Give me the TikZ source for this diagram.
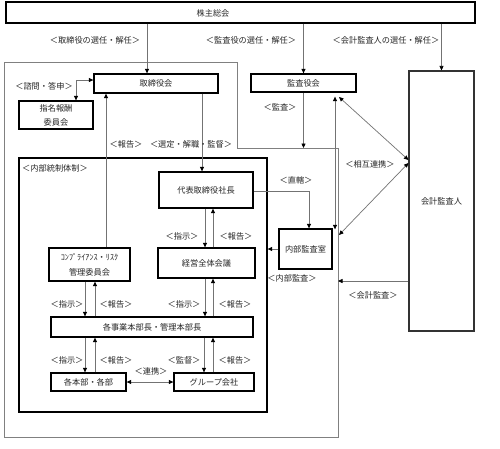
\documentclass[tikz,border=0pt]{standalone}
\usepackage{fontspec}
\setmainfont{Noto Sans CJK JP}
\usetikzlibrary{arrows.meta}
\begin{document}
\begin{tikzpicture}[x=1pt,y=-1pt,
  font=\fontsize{8.2}{10}\selectfont,
  box/.style={draw=black, line width=1.3pt, fill=white, inner sep=0pt, text=black!85},
  ln/.style={draw=black!55, line width=0.7pt},
  tip/.style={},
  arr/.style={ln, -{Triangle[length=4.5pt,width=4pt,color=black]}},
  darr/.style={ln, {Triangle[length=4.5pt,width=4pt,color=black]}-{Triangle[length=4.5pt,width=4pt,color=black]}},
  lab/.style={inner sep=0pt, text=black!85}]
\useasboundingbox (0,0) rectangle (500,448);
\fill[white] (0,0) rectangle (500,448);
% outer board area
\draw[draw=black!50, line width=0.7pt] (4,62) -- (237,62) -- (237,148) -- (338,148) -- (338,437) -- (4,437) -- cycle;
\coordinate (oT) at (338,148);
% boxes
\node[box, minimum width=469pt, minimum height=21pt] (kabu) at (240.5,12.5) {};
\node[lab] (kabut) at (213,13) {株主総会};
\node[box, minimum width=124pt, minimum height=19pt] (tori) at (156,83.5) {取締役会};
\node[box, minimum width=74pt, minimum height=28pt, align=center, font=\fontsize{8.2}{14}\selectfont] (shimei) at (56,115) {指名報酬\\委員会};
\node[box, minimum width=105pt, minimum height=18pt] (kansa) at (303.5,83) {監査役会};
\node[box, line width=1.1pt, draw=black!80, minimum width=65pt, minimum height=260pt] (kaikei) at (441.5,201) {会計監査人};
\node[box, fill=none, minimum width=248pt, minimum height=254pt] (inner) at (143,285) {};
\node[lab, anchor=west] (naibut) at (22,168) {＜内部統制体制＞};
\node[box, minimum width=94pt, minimum height=36pt] (daihyo) at (206,190) {代表取締役社長};
\node[box, minimum width=97pt, minimum height=30pt] (keiei) at (206.5,263) {経営全体会議};
\node[box, minimum width=81pt, minimum height=33pt, align=center, font=\fontsize{8.2}{15}\selectfont] (compla) at (89.5,264.5) {ｺﾝﾌﾟﾗｲｱﾝｽ・ﾘｽｸ\\管理委員会};
\node[box, minimum width=202pt, minimum height=20pt] (jigyo) at (152,327) {各事業本部長・管理本部長};
\node[box, minimum width=75pt, minimum height=18pt] (kakubu) at (88.5,382) {各本部・各部};
\node[box, minimum width=80pt, minimum height=18pt] (group) at (214,382) {グループ会社};
\node[box, minimum width=53pt, minimum height=40pt] (naibu) at (305.5,249) {内部監査室};
% x positions
\coordinate (cA) at (147,0);
\coordinate (cB) at (76,0);
\coordinate (cC) at (202,0);
\coordinate (cD) at (106,0);
\coordinate (cE) at (205,0);
\coordinate (cF) at (213,0);
\coordinate (cG) at (85,0);
\coordinate (cH) at (95,0);
\coordinate (cI) at (204,0);
\coordinate (cJ) at (309,0);
\coordinate (cK) at (335,0);
\coordinate (d1) at (339,97);
\coordinate (d2) at (339,235);
% connectors
\draw[arr] (kabu.south -| cA) -- (tori.north -| cA);
\draw[arr] (kabu.south -| kansa.north) -- (kansa.north);
\draw[arr] (kabu.south -| kaikei.north) -- (kaikei.north);
\draw[darr] ([yshift=3.5pt]tori.west) -| (shimei.north -| cB);
\draw[arr] (tori.south -| cC) -- (daihyo.north -| cC);
\draw[arr] (compla.north -| cD) -- (tori.south -| cD);
\draw[arr] (daihyo.south -| cE) -- (keiei.north -| cE);
\draw[arr] (keiei.north -| cF) -- (daihyo.south -| cF);
\draw[arr] (compla.south -| cG) -- (jigyo.north -| cG);
\draw[arr] (jigyo.north -| cH) -- (compla.south -| cH);
\draw[arr] (keiei.south -| cE) -- (jigyo.north -| cE);
\draw[arr] (jigyo.north -| cF) -- (keiei.south -| cF);
\draw[arr] (jigyo.south -| cG) -- (kakubu.north -| cG);
\draw[arr] (kakubu.north -| cH) -- (jigyo.south -| cH);
\draw[arr] (jigyo.south -| cI) -- (group.north -| cI);
\draw[arr] (group.north -| cF) -- (jigyo.south -| cF);
\draw[darr] (kakubu.east) -- (group.west);
\draw[arr] ([yshift=-1pt]daihyo.east) -| (naibu.north -| cJ);
\draw[arr] (naibu.west) -- (inner.east |- naibu.west);
\draw[arr] (kansa.south) -- (kansa.south |- oT);
\draw[darr] ([yshift=-4pt]kansa.south -| cK) -- ([yshift=-1pt]naibu.north -| cK);
\draw[darr] (d1) -- ([yshift=41pt]kaikei.west);
\draw[darr] ([yshift=38pt]kaikei.west) -- (d2);
\coordinate (k281) at ([yshift=-80pt]kaikei.west);
\draw[arr] (k281) -- (k281 -| oT);
% labels
\node[lab] (l1) at (95,40) {＜取締役の選任・解任＞};
\node[lab] (l2) at (251,40) {＜監査役の選任・解任＞};
\node[lab] (l3) at (386,40) {＜会計監査人の選任・解任＞};
\node[lab] (l4) at (44,86) {＜諮問・答申＞};
\node[lab] (l5) at (126,144) {＜報告＞};
\node[lab] (l6) at (191,144) {＜選定・解職・監督＞};
\node[lab] (l7) at (182,236) {＜指示＞};
\node[lab] (l8) at (236,236) {＜報告＞};
\node[lab] (l9) at (296,180) {＜直轄＞};
\node[lab] (l10) at (292,278) {＜内部監査＞};
\node[lab] (l11) at (370,164) {＜相互連携＞};
\node[lab] (l12) at (373,295) {＜会計監査＞};
\node[lab] (l13) at (280,107) {＜監査＞};
\node[lab] (l14) at (67,304) {＜指示＞};
\node[lab] (l15) at (116,304) {＜報告＞};
\node[lab] (l16) at (184,304) {＜指示＞};
\node[lab] (l17) at (235,304) {＜報告＞};
\node[lab] (l18) at (67,360) {＜指示＞};
\node[lab] (l19) at (116,360) {＜報告＞};
\node[lab] (l20) at (184,360) {＜監督＞};
\node[lab] (l21) at (235,360) {＜報告＞};
\node[lab] (l22) at (151,371) {＜連携＞};
\end{tikzpicture}
\end{document}
